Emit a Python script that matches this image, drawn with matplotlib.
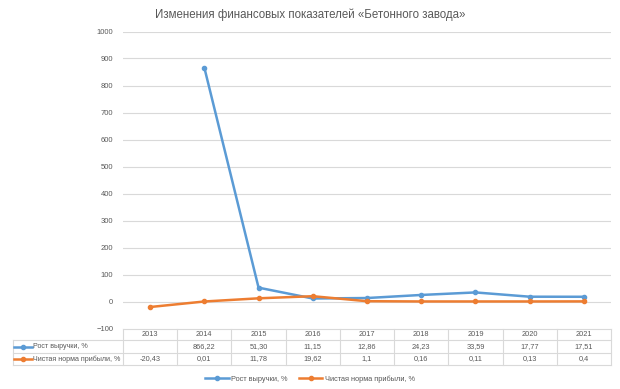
import matplotlib
matplotlib.use("Agg")
import matplotlib.pyplot as plt
from matplotlib.lines import Line2D
from matplotlib.transforms import blended_transform_factory
import numpy as np

plt.rcParams['font.family'] = ['Liberation Sans', 'DejaVu Sans']

years = ['2013', '2014', '2015', '2016', '2017', '2018', '2019', '2020', '2021']
revenue_growth = [np.nan, 866.22, 51.30, 11.15, 12.86, 24.23, 33.59, 17.77, 17.51]
net_margin = [-20.43, 0.01, 11.78, 19.62, 1.1, 0.16, 0.11, 0.13, 0.4]
revenue_labels = ['', '866,22', '51,30', '11,15', '12,86', '24,23', '33,59', '17,77', '17,51']
margin_labels = ['-20,43', '0,01', '11,78', '19,62', '1,1', '0,16', '0,11', '0,13', '0,4']
series_names = ['Рост выручки, %', 'Чистая норма прибыли, %']
title = 'Изменения финансовых показателей «Бетонного завода»'

BLUE = '#5B9BD5'
ORANGE = '#ED7D31'
GRAY = '#595959'
GRID = '#D9D9D9'

W, H = 620, 389
fig = plt.figure(figsize=(W / 100, H / 100), dpi=100)

# overlay in pixel coordinates
ov = fig.add_axes([0, 0, 1, 1])
ov.set_xlim(0, W)
ov.set_ylim(H, 0)
ov.axis('off')

left, right, top, bottom = 123, 611, 31.5, 328.5
ax = fig.add_axes([left / W, 1 - bottom / H, (right - left) / W, (bottom - top) / H])
x = np.arange(len(years))
ax.set_xlim(-0.5, len(years) - 0.5)
ax.set_ylim(-100, 1000)
ax.set_yticks(np.arange(-100, 1001, 100))
ax.tick_params(axis='y', length=0, labelsize=5.5, labelcolor=GRAY, pad=7)
ax.set_xticks([])
for s in ax.spines.values():
    s.set_visible(False)
ax.grid(axis='y', color=GRID, lw=0.8)
ax.set_axisbelow(True)

ax.plot(x, revenue_growth, color=BLUE, lw=1.8, marker='o', ms=3, zorder=3)
ax.plot(x, net_margin, color=ORANGE, lw=1.8, marker='o', ms=3, zorder=3)

ov.text(310, 15, title, ha='center', va='center', fontsize=8.3, color=GRAY)

# data table
tr = blended_transform_factory(ax.transData, ov.transData)
row_y = [329, 340, 353, 365]
lc = '#D9D9D9'
n = len(years)
FS = 5.3
ov.plot([left, right], [row_y[0]] * 2, color=lc, lw=0.8)
for yy in row_y[1:]:
    ov.plot([13, right], [yy] * 2, color=lc, lw=0.8)
for i in range(n + 1):
    ax.plot([i - 0.5, i - 0.5], [row_y[0], row_y[3]], color=lc, lw=0.8,
            transform=tr, clip_on=False)
ov.plot([13, 13], [row_y[1], row_y[3]], color=lc, lw=0.8)

for i, yr in enumerate(years):
    ax.text(i, (row_y[0] + row_y[1]) / 2, yr, transform=tr, ha='center', va='center',
            fontsize=FS, color=GRAY, clip_on=False)
    ax.text(i, (row_y[1] + row_y[2]) / 2, revenue_labels[i], transform=tr,
            ha='center', va='center', fontsize=FS, color=GRAY, clip_on=False)
    ax.text(i, (row_y[2] + row_y[3]) / 2, margin_labels[i], transform=tr,
            ha='center', va='center', fontsize=FS, color=GRAY, clip_on=False)

for k, (name, col) in enumerate(zip(series_names, [BLUE, ORANGE])):
    cy = (row_y[k + 1] + row_y[k + 2]) / 2
    ov.plot([14, 32], [cy, cy], color=col, lw=1.8)
    ov.plot([23], [cy], color=col, marker='o', ms=3)
    ov.text(33, cy, name, ha='left', va='center', fontsize=5.1, color=GRAY)

handles = [Line2D([], [], color=BLUE, lw=1.8, marker='o', ms=3),
           Line2D([], [], color=ORANGE, lw=1.8, marker='o', ms=3)]
leg = fig.legend(handles, series_names, loc='center', bbox_to_anchor=(0.5, 1 - 379 / H),
                 ncol=2, frameon=False, fontsize=FS, handlelength=3.2, columnspacing=1.5,
                 handletextpad=0.3)
for t in leg.get_texts():
    t.set_color(GRAY)

fig.savefig('out.png', dpi=100)
